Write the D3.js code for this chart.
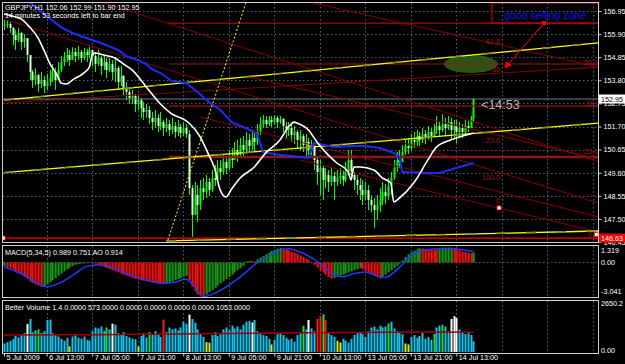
<!DOCTYPE html>
<html>
<head>
<meta charset="utf-8">
<script src="https://cdn.jsdelivr.net/npm/d3@7"></script>
<style>
body { margin: 0; background: #000; overflow: hidden; }
text { font-family: "Liberation Sans", Arial, sans-serif; }
</style>
</head>
<body>
<script>
// GBPJPY H1 chart data

var closes = [
  156.31,156.36,156.18,155.86,155.63,155.95,155.54,155.72,154.95,154.18,
  153.81,154.04,153.63,153.81,153.54,153.72,153.90,154.18,153.81,154.27,
  154.63,154.81,154.95,154.72,155.09,154.90,155.09,154.81,155.09,154.95,
  155.18,154.90,154.54,154.81,154.45,154.63,154.27,154.54,154.18,154.36,
  153.72,154.00,153.45,153.27,153.00,153.09,152.72,152.90,152.54,152.36,
  152.45,152.09,151.90,152.09,151.72,151.90,151.63,151.81,151.54,151.72,
  151.45,151.68,151.40,151.63,151.36,148.90,147.68,148.59,148.13,148.90,
  148.72,149.18,148.81,149.36,149.27,149.81,149.63,150.09,149.81,150.27,
  150.18,150.63,150.40,150.86,150.63,151.09,150.81,151.18,151.00,151.45,
  151.81,152.00,151.81,152.00,151.90,152.09,151.90,152.04,151.72,151.54,
  151.63,151.31,151.45,151.09,151.27,150.86,151.00,150.63,150.86,150.18,
  149.63,149.81,149.27,149.50,149.18,149.45,149.18,149.36,149.45,149.27,
  149.63,150.18,149.50,149.27,149.04,148.81,148.59,148.81,148.36,148.13,
  147.90,148.13,148.36,148.72,148.54,149.00,149.36,149.81,150.18,150.09,
  150.54,150.81,150.72,151.09,151.00,151.27,151.09,151.36,151.18,151.45,
  151.27,151.54,151.72,151.54,151.81,151.63,151.90,151.54,151.72,151.45,
  151.63,151.45,151.72,151.63,152.06,152.95];

var highs = [
  156.54,156.54,156.45,156.22,156.09,156.18,156.00,155.90,155.72,154.95,
  154.27,154.36,154.09,154.18,154.00,154.09,154.27,154.54,154.36,154.63,
  154.90,155.09,155.27,155.18,155.31,155.27,155.36,155.18,155.27,155.22,
  155.31,155.18,155.09,155.18,154.90,154.95,154.81,154.81,154.72,154.81,
  154.45,154.45,154.04,153.72,153.45,153.36,153.18,153.13,153.00,152.81,
  152.72,152.63,152.36,152.45,152.27,152.36,152.00,152.09,152.00,152.09,
  151.90,152.00,151.81,151.90,151.81,151.54,149.04,149.18,149.04,149.27,
  149.36,149.50,149.36,149.72,149.95,150.18,150.18,150.40,150.27,150.63,
  150.72,151.00,151.09,151.18,151.27,151.45,151.36,151.54,151.45,151.81,
  152.13,152.22,152.18,152.18,152.18,152.22,152.18,152.18,152.09,151.90,
  151.90,151.77,151.72,151.54,151.54,151.36,151.36,151.18,151.09,150.86,
  150.27,150.18,149.95,149.81,149.72,149.81,149.63,149.72,149.81,149.72,
  150.09,150.63,150.63,149.63,149.50,149.36,149.27,149.18,149.04,148.59,
  148.45,148.59,148.90,149.18,149.09,149.36,149.63,150.18,150.54,150.63,
  150.86,151.09,151.18,151.36,151.45,151.54,151.45,151.63,151.54,151.72,
  151.63,151.81,152.18,151.90,152.27,152.09,152.18,152.09,152.00,152.00,
  151.90,151.81,152.00,152.00,152.18,152.99];

var lows = [
  156.09,156.18,155.95,155.40,155.18,155.54,155.18,155.27,154.63,153.81,
  153.45,153.59,153.27,153.45,153.22,153.36,153.54,153.72,153.36,153.90,
  154.18,154.45,154.63,154.45,154.72,154.63,154.72,154.59,154.72,154.63,
  154.81,154.45,154.18,154.45,154.04,154.27,153.90,154.18,153.81,153.72,
  153.36,153.54,153.13,152.90,152.72,152.72,152.36,152.45,152.09,152.00,
  152.09,151.81,151.54,151.63,151.45,151.54,151.27,151.45,151.27,151.36,
  151.18,151.27,151.18,151.27,151.18,148.59,146.68,147.68,147.36,147.90,
  148.36,148.45,148.54,148.72,149.00,149.18,149.27,149.50,149.54,149.72,
  149.81,150.18,150.09,150.27,150.36,150.45,150.54,150.63,150.54,150.86,
  151.31,151.63,151.63,151.72,151.68,151.77,151.63,151.81,151.45,151.18,
  151.27,151.00,150.90,150.72,150.63,150.54,150.36,150.31,150.40,149.72,
  149.04,148.59,148.36,148.90,148.72,149.00,148.36,149.00,149.09,149.00,
  149.18,149.50,149.27,148.81,148.59,148.36,148.13,148.36,147.90,147.81,
  147.09,147.45,147.81,148.13,148.18,148.36,148.59,149.27,149.63,149.81,
  150.09,150.40,150.45,150.63,150.72,150.81,150.81,150.95,150.90,151.09,
  151.00,151.22,151.36,151.27,151.45,151.27,151.54,151.09,151.18,150.95,
  151.27,151.18,151.36,151.45,151.63,151.90];

// moving averages as [bar index, price]
var maWhite = [[0,156.81],[4,156.68],[6,156.59],[9,156.22],[12,155.72],[14,155.18],[16,154.59],
  [19,153.95],[20,153.68],[22,153.63],[24,153.81],[28,154.13],[30,154.40],[31,154.95],[32,155.04],
  [35,154.95],[39,154.81],[42,154.54],[45,154.27],[50,153.50],[55,152.72],[59,152.27],[63,152.04],
  [65,151.86],[69,151.22],[72,150.40],[74,149.81],[76,148.81],[78,148.50],[80,148.86],[83,149.36],
  [88,149.86],[92,150.50],[97,151.09],[100,151.68],[102,151.90],[103,151.86],[107,151.54],
  [110,151.00],[114,150.40],[117,150.04],[121,149.63],[122,149.27],[123,149.86],[125,149.86],
  [130,149.72],[133,149.36],[136,149.13],[137,148.27],[139,148.45],[144,149.13],[149,150.18],
  [152,150.77],[157,151.09],[160,151.22],[165,151.40]];

var maBlue = [[8,157.45],[15,156.72],[20,156.22],[24,155.95],[30,155.68],[35,155.45],[40,155.18],
  [43,154.90],[47,154.72],[50,154.54],[52,154.31],[55,154.13],[59,153.77],[64,153.68],[68,153.27],
  [72,152.81],[76,152.45],[80,151.90],[85,151.63],[89,151.36],[91,150.54],[97,150.40],[104,150.31],
  [107,150.27],[109,150.95],[116,150.77],[122,150.81],[127,150.81],[132,150.72],[137,150.50],
  [139,150.31],[140,149.63],[149,149.59],[153,149.59],[159,149.81],[165,150.04]];

var macdHist = [
  -0.30,-0.40,-0.50,
  -0.60,-0.80,-0.95,-1.10,-1.30,-1.50,-1.70,-1.85,-2.00,-2.10,-2.20,
  -2.15,-2.00,-1.80,-1.60,-1.40,-1.20,-1.00,-0.80,-0.60,-0.45,-0.30,-0.20,
  -0.15,-0.10,-0.08,-0.06,-0.05,-0.07,-0.10,
  -0.20,-0.30,-0.40,-0.50,-0.60,-0.70,-0.80,-0.90,-1.00,
  -1.10,-1.20,-1.30,-1.40,-1.50,-1.55,-1.60,-1.65,-1.70,-1.75,-1.80,-1.85,-1.90,-1.92,-1.95,
  -1.90,-1.80,-1.70,-1.60,-1.50,-1.40,-1.30,-1.20,
  -1.60,-2.20,-2.60,-2.90,-3.00,-3.04,
  -2.90,-2.70,-2.50,-2.30,-2.10,-1.90,-1.70,-1.50,-1.30,-1.10,-0.90,-0.70,-0.50,-0.30,
  0.10,0.15,0.12,0.10,
  0.30,0.45,0.60,0.75,0.90,1.05,1.15,1.25,1.32,
  1.28,1.20,1.10,1.00,0.90,0.80,0.65,0.50,0.35,0.20,0.05,
  -0.20,-0.45,-0.70,-0.90,-1.10,-1.30,-1.45,
  -1.40,-1.30,-1.20,-1.10,-1.00,-0.90,-0.80,-0.70,-0.60,-0.50,
  -0.60,-0.75,-0.90,-1.05,-1.20,-1.35,-1.45,
  -1.30,-1.10,-0.90,-0.70,-0.50,-0.30,-0.10,
  0.20,0.50,0.75,0.95,1.10,1.20,1.30,
  1.28,1.25,1.22,1.20,1.18,1.15,
  1.20,1.25,1.28,1.30,1.32,
  1.28,1.20,1.10,1.00,0.95,0.90,0.85,
  0.91];

var macdSignal = [[0,-0.40],[6,-1.00],[12,-1.90],[15,-2.20],[20,-1.80],[25,-1.00],[29,-0.35],
  [33,-0.20],[38,-0.45],[44,-1.10],[50,-1.60],[56,-1.90],[60,-1.80],[64,-1.50],[67,-2.20],
  [70,-3.10],[74,-2.80],[80,-1.90],[85,-0.90],[88,-0.20],[92,0.40],[97,1.10],[100,1.25],
  [104,0.95],[108,0.45],[112,-0.30],[116,-1.10],[119,-1.30],[123,-1.00],[127,-0.85],[131,-1.20],
  [134,-1.35],[137,-0.90],[140,-0.20],[143,0.60],[147,1.10],[152,1.25],[157,1.30],[161,1.15],
  [165,1.00]];

var volume = [
  450,520,600,680,850,780,920,1000,1480,1750,
  1050,1150,1200,1000,1100,1700,1720,1000,900,820,
  700,600,750,300,820,900,760,700,820,650,
  600,1100,1300,1250,1350,1100,1300,1200,1500,1450,
  1000,900,1050,850,780,700,680,300,850,1000,
  760,1050,900,1100,950,800,1720,1050,1300,1200,
  1250,1150,1300,1600,1500,1980,1750,1550,1200,950,
  800,520,500,900,1050,850,950,1200,1300,1150,
  1400,1250,1350,1200,1450,1600,1650,1560,1700,1100,
  1000,900,850,700,400,650,950,1000,900,750,
  650,700,550,900,1000,1380,1200,1700,1250,1100,
  1750,1900,2000,1700,1000,900,800,600,500,700,
  600,500,700,900,1000,1050,950,800,1100,1300,
  1350,1200,1400,1300,1350,1500,1600,1250,1100,1000,
  950,450,400,800,900,750,850,1000,700,800,
  650,950,1300,1400,1450,1350,1100,1750,1900,1800,
  1200,1050,950,1000,900,573];

// Better Volume bar class: c normal, w climax, r climax down, g churn, y low
var volClass = ("ccccccccwc" + "ccgccccccc" + "cccycccccc" + "ccccccgcwc" + "cccccccycc" +
  "cgccccrccc" + "cccccwcccc" + "cyyccccccc" + "cccccccwcc" + "ccccyccccc" +
  "cccccgcwcc" + "rrgrcccyyc" + "cccccccccc" + "cccccgcccc" + "cyyccccccc" +
  "cgccgccwww" + "cccccc").split("");

var volAvg = [[0,900],[30,920],[60,960],[90,1000],[120,1040],[150,1060],[165,1053]];

var priceTicks = [156.95,155.90,154.85,153.80,152.75,151.70,150.65,149.60,148.55,147.50,146.45];
var timeTickIdx = [0,15,31,47,63,79,95,111,127,143,159];
var timeLabels = ["5 Jul 2009","6 Jul 13:00","7 Jul 05:00","7 Jul 21:00","8 Jul 13:00","9 Jul 05:00",
  "9 Jul 21:00","10 Jul 13:00","13 Jul 05:00","13 Jul 21:00","14 Jul 13:00"];
var gridIdx = [15,31,47,63,79,95,111,127,143,159,175,191,207];

// drawn objects, [bar1, price1, bar2, price2]
var yellowLines = [[0,152.90,209,155.50],[0,149.60,209,151.86],[57,146.50,209,146.95]];
var yellowDotted = [57.6,146.54,85.1,157.36];
var redDiag = [[32,157.45,209,150.09],[0,156.58,209,148.22],[104,157.45,209,154.40],
  [69,152.13,209,147.59],[104,150.18,209,146.90],[86.5,153.95,209,150.22],[0,152.77,209,154.40]];
// horizontal levels [start bar, price]
var redFlat = [[58,156.40],[58,154.54],[58,152.63]];
var fibLabels = [["61.8",169.4,155.45],["50.0",203.9,154.50],["50",171.5,154.18],["38.2",204.6,152.63],
  ["23.6",169.4,150.95],["23.6",203.9,150.45],["100.0",168,149.27],["0",172.9,148.22],["0.0",205.3,146.66]];

var width = 625, height = 364;

var svg = d3.select("body").append("svg")
    .attr("width", width)
    .attr("height", height)
    .style("background", "#000");

var x = d3.scaleLinear().domain([0, 209]).range([4, 598.6]);
var yP = d3.scaleLinear().domain([146.5, 156.95]).range([240.9, 11]);
var yM = d3.scaleLinear().domain([-3.041, 1.319]).range([296, 248]);
var yV = d3.scaleLinear().domain([0, 2650.2]).range([352, 302]);

var grid = "#56606a";
var fontSize = 7.2;

// clip areas for panels
var defs = svg.append("defs");
defs.append("clipPath").attr("id", "cMain").append("rect").attr("x", 3).attr("y", 3).attr("width", 595).attr("height", 239);
defs.append("clipPath").attr("id", "cMacd").append("rect").attr("x", 3).attr("y", 246).attr("width", 595).attr("height", 51);
defs.append("clipPath").attr("id", "cVol").append("rect").attr("x", 3).attr("y", 301).attr("width", 595).attr("height", 52);
defs.append("marker").attr("id", "arr").attr("viewBox", "0 0 10 10").attr("refX", 9).attr("refY", 5)
  .attr("markerWidth", 7).attr("markerHeight", 7).attr("orient", "auto")
  .append("path").attr("d", "M0,0L10,5L0,10z").attr("fill", "#ff0000");

// ---- main panel
var main = svg.append("g").attr("clip-path", "url(#cMain)");

main.selectAll(".hg").data(priceTicks).enter().append("line")
  .attr("x1", 3).attr("x2", 598).attr("y1", function(d) { return Math.round(yP(d)) + 0.5; })
  .attr("y2", function(d) { return Math.round(yP(d)) + 0.5; })
  .attr("stroke", grid).attr("stroke-dasharray", "1.5,2.5");
main.selectAll(".vg").data(gridIdx).enter().append("line")
  .attr("y1", 3).attr("y2", 242).attr("x1", function(d) { return Math.round(x(d)) + 0.5; })
  .attr("x2", function(d) { return Math.round(x(d)) + 0.5; })
  .attr("stroke", grid).attr("stroke-dasharray", "1.5,2.5");

// green zone ellipse (background object)
main.append("ellipse").attr("cx", x(164.1)).attr("cy", yP(154.54))
  .attr("rx", x(9.5) - x(0)).attr("ry", yP(154.13) - yP(154.54))
  .attr("fill", "#2f5d18").attr("opacity", 0.9);

// candles
var bars = closes.map(function(c, i) {
  var o = i ? closes[i - 1] : c;
  return {i: i, o: o, c: c, h: Math.max(highs[i], o, c), l: Math.min(lows[i], o, c)};
});
main.selectAll(".wick").data(bars).enter().append("line")
  .attr("x1", function(d) { return Math.round(x(d.i)) + 0.5; })
  .attr("x2", function(d) { return Math.round(x(d.i)) + 0.5; })
  .attr("y1", function(d) { return yP(d.h); })
  .attr("y2", function(d) { return yP(d.l); })
  .attr("stroke", "#00ff00").attr("stroke-width", 1);
main.selectAll(".body").data(bars).enter().append("rect")
  .attr("x", function(d) { return Math.round(x(d.i)) - 0.5; })
  .attr("width", 2)
  .attr("y", function(d) { return yP(Math.max(d.o, d.c)); })
  .attr("height", function(d) { return Math.max(1, Math.abs(yP(d.o) - yP(d.c))); })
  .attr("fill", function(d) { return d.c >= d.o ? "#00ff00" : "#d8ffd8"; });

// horizontal levels and trend lines
main.selectAll(".flat").data(redFlat).enter().append("line")
  .attr("x1", function(d) { return x(d[0]); }).attr("x2", 598)
  .attr("y1", function(d) { return yP(d[1]); }).attr("y2", function(d) { return yP(d[1]); })
  .attr("stroke", "#a01010").attr("stroke-width", 1.2);
main.append("line").attr("x1", x(58)).attr("x2", 598).attr("y1", yP(150.31)).attr("y2", yP(150.31))
  .attr("stroke", "#8a1818").attr("stroke-width", 2.5);
main.append("line").attr("x1", 3).attr("x2", 598).attr("y1", yP(152.95)).attr("y2", yP(152.95))
  .attr("stroke", "#6f7f8c").attr("stroke-width", 1);
main.append("line").attr("x1", 3).attr("x2", 598).attr("y1", yP(146.63)).attr("y2", yP(146.63))
  .attr("stroke", "#ff0000").attr("stroke-width", 1.2);

main.selectAll(".diag").data(redDiag).enter().append("line")
  .attr("x1", function(d) { return x(d[0]); }).attr("y1", function(d) { return yP(d[1]); })
  .attr("x2", function(d) { return x(d[2]); }).attr("y2", function(d) { return yP(d[3]); })
  .attr("stroke", "#860000").attr("stroke-width", 1);

main.selectAll(".yl").data(yellowLines).enter().append("line")
  .attr("x1", function(d) { return x(d[0]); }).attr("y1", function(d) { return yP(d[1]); })
  .attr("x2", function(d) { return x(d[2]); }).attr("y2", function(d) { return yP(d[3]); })
  .attr("stroke", "#ffff00").attr("stroke-width", 1.3);
main.selectAll(".yo").data(yellowLines).enter().append("line")
  .attr("x1", function(d) { return x(d[0]); }).attr("y1", function(d) { return yP(d[1]); })
  .attr("x2", function(d) { return x(d[2]); }).attr("y2", function(d) { return yP(d[3]); })
  .attr("stroke", "#8c8c1e").attr("stroke-width", 1.6).attr("stroke-dasharray", "10,20");
main.append("line")
  .attr("x1", x(yellowDotted[0])).attr("y1", yP(yellowDotted[1]))
  .attr("x2", x(yellowDotted[2])).attr("y2", yP(yellowDotted[3]))
  .attr("stroke", "#ffff00").attr("stroke-width", 1).attr("stroke-dasharray", "2,2");

// moving averages
var lineP = d3.line().x(function(d) { return x(d[0]); }).y(function(d) { return yP(d[1]); })
  .curve(d3.curveMonotoneX);
main.append("path").datum(maBlue).attr("d", d3.line().x(function(d) { return x(d[0]); })
  .y(function(d) { return yP(d[1]); }))
  .attr("fill", "none").attr("stroke", "#1a2cff").attr("stroke-width", 2);
main.append("path").datum(maWhite).attr("d", lineP)
  .attr("fill", "none").attr("stroke", "#ffffff").attr("stroke-width", 1.6);

// fibo labels and anchors
main.selectAll(".fib").data(fibLabels).enter().append("text")
  .attr("x", function(d) { return x(d[1]); }).attr("y", function(d) { return yP(d[2]); })
  .attr("fill", "#a01818").attr("font-size", fontSize).text(function(d) { return d[0]; });
main.selectAll(".anch").data([[174, 148.0], [-0.3, 146.63], [208.2, 146.8]]).enter().append("rect")
  .attr("x", function(d) { return x(d[0]) - 2; }).attr("y", function(d) { return yP(d[1]) - 2; })
  .attr("width", 4).attr("height", 4).attr("fill", "#fff").attr("stroke", "#ff0000").attr("stroke-width", 0.8);

// selling zone note
main.append("rect").attr("x", x(171.5)).attr("y", yP(157.31))
  .attr("width", x(209) - x(171.5)).attr("height", yP(156.40) - yP(157.31))
  .attr("fill", "none").attr("stroke", "#c00000").attr("stroke-width", 1.2);
main.append("text").attr("x", x(190.2)).attr("y", yP(156.58)).attr("text-anchor", "middle")
  .attr("fill", "#1010ff").attr("font-size", 10.5).text("good selling zone");
main.append("line").attr("x1", x(189.8)).attr("y1", yP(156.40)).attr("x2", x(176.1)).attr("y2", yP(154.36))
  .attr("stroke", "#ff0000").attr("stroke-width", 1).attr("marker-end", "url(#arr)");
main.append("rect").attr("x", x(189.8) - 2).attr("y", yP(156.40) - 2).attr("width", 4).attr("height", 4)
  .attr("fill", "#ff0000");

main.append("text").attr("x", x(167.7)).attr("y", yP(152.50)).attr("fill", "#b8b8b8")
  .attr("font-size", 12.5).text("<14:53");

svg.append("text").attr("x", 5).attr("y", 10).attr("fill", "#fff").attr("font-size", fontSize)
  .text("GBPJPY,H1  152.06 152.99 151.90 152.95");
svg.append("text").attr("x", 5).attr("y", 18).attr("fill", "#fff").attr("font-size", fontSize)
  .text("14 minutes 53 seconds left to bar end");

// ---- MACD panel
var mac = svg.append("g").attr("clip-path", "url(#cMacd)");
mac.selectAll(".vg").data(gridIdx).enter().append("line")
  .attr("y1", 246).attr("y2", 297).attr("x1", function(d) { return Math.round(x(d)) + 0.5; })
  .attr("x2", function(d) { return Math.round(x(d)) + 0.5; })
  .attr("stroke", grid).attr("stroke-dasharray", "1.5,2.5");
mac.append("line").attr("x1", 3).attr("x2", 598).attr("y1", yM(0)).attr("y2", yM(0))
  .attr("stroke", grid).attr("stroke-dasharray", "1.5,2.5");
mac.selectAll(".mh").data(macdHist).enter().append("rect")
  .attr("x", function(d, i) { return Math.round(x(i)) - 0.5; })
  .attr("width", 2.2)
  .attr("y", function(d) { return yM(Math.max(0, d)); })
  .attr("height", function(d) { return Math.max(0.5, Math.abs(yM(d) - yM(0))); })
  .attr("fill", function(d, i) { return i && d < macdHist[i - 1] ? "#f01010" : "#199419"; });
mac.append("path").datum(macdSignal)
  .attr("d", d3.line().x(function(d) { return x(d[0]); }).y(function(d) { return yM(d[1]); }).curve(d3.curveMonotoneX))
  .attr("fill", "none").attr("stroke", "#1a3cff").attr("stroke-width", 1.5);
svg.append("text").attr("x", 5).attr("y", 255).attr("fill", "#fff").attr("font-size", fontSize)
  .text("MACD(5,34,5) 0.989 0.751  AO 0.914");

// ---- volume panel
var vol = svg.append("g").attr("clip-path", "url(#cVol)");
vol.selectAll(".vg").data(gridIdx).enter().append("line")
  .attr("y1", 301).attr("y2", 353).attr("x1", function(d) { return Math.round(x(d)) + 0.5; })
  .attr("x2", function(d) { return Math.round(x(d)) + 0.5; })
  .attr("stroke", grid).attr("stroke-dasharray", "1.5,2.5");
var volColor = {c: "#14c4ee", w: "#ffffff", r: "#ff1a1a", g: "#22dd22", y: "#e8e020"};
vol.selectAll(".vb").data(volume).enter().append("rect")
  .attr("x", function(d, i) { return Math.round(x(i)) - 0.5; })
  .attr("width", 2)
  .attr("y", function(d) { return yV(d); })
  .attr("height", function(d) { return yV(0) - yV(d); })
  .attr("fill", function(d, i) { return volColor[volClass[i]]; });
vol.append("path").datum(volAvg)
  .attr("d", d3.line().x(function(d) { return x(d[0]); }).y(function(d) { return yV(d[1]); }))
  .attr("fill", "none").attr("stroke", "#a00000").attr("stroke-width", 1.5);
svg.append("text").attr("x", 5).attr("y", 310).attr("fill", "#fff").attr("font-size", fontSize)
  .text("Better Volume 1.4 0.0000 573.0000 0.0000 0.0000 0.0000 0.0000 1053.0000");

// ---- frames
var frame = svg.append("g").attr("fill", "none").attr("stroke", "#d0d0d0").attr("stroke-width", 1);
frame.append("rect").attr("x", 2.5).attr("y", 2.5).attr("width", 596).attr("height", 240);
frame.append("rect").attr("x", 2.5).attr("y", 245.5).attr("width", 596).attr("height", 52);
frame.append("rect").attr("x", 2.5).attr("y", 300.5).attr("width", 596).attr("height", 53);

// ---- price axis
var axP = svg.append("g").attr("transform", "translate(598.5,0)")
  .call(d3.axisRight(yP).tickValues(priceTicks).tickFormat(d3.format(".2f")).tickSize(3).tickPadding(2));
axP.select(".domain").remove();
axP.selectAll("line").attr("stroke", "#d0d0d0");
axP.selectAll("text").attr("fill", "#fff").attr("font-size", fontSize).attr("font-family", "Liberation Sans, Arial");

var boxes = [[152.95, "#ffffff", "#000000"], [146.63, "#ff0000", "#ffffff"]];
boxes.forEach(function(b) {
  svg.append("rect").attr("x", 599).attr("y", yP(b[0]) - 4.5).attr("width", 26).attr("height", 9).attr("fill", b[1]);
  svg.append("text").attr("x", 601).attr("y", yP(b[0]) + 2.6).attr("fill", b[2])
    .attr("font-size", fontSize).text(d3.format(".2f")(b[0]));
});

var macdLabels = [[1.319, "1.319"], [0, "0.00"], [-3.041, "-3.041"]];
svg.selectAll(".ml").data(macdLabels).enter().append("text")
  .attr("x", 601).attr("y", function(d) { return Math.min(294, Math.max(253, yM(d[0]) + 2.5)); })
  .attr("fill", "#fff").attr("font-size", fontSize).text(function(d) { return d[1]; });
svg.selectAll(".vl").data([[2650.2, "2650.2"], [0, "0.00"]]).enter().append("text")
  .attr("x", 601).attr("y", function(d) { return Math.min(353, Math.max(306, yV(d[0]) + 2.5)); })
  .attr("fill", "#fff").attr("font-size", fontSize).text(function(d) { return d[1]; });

// ---- time axis
var axT = svg.append("g").attr("transform", "translate(0,353.5)")
  .call(d3.axisBottom(x).tickValues(timeTickIdx).tickFormat(function(d, k) { return timeLabels[k]; })
    .tickSize(3).tickPadding(1));
axT.select(".domain").remove();
axT.selectAll("line").attr("stroke", "#d0d0d0");
axT.selectAll("text").attr("fill", "#fff").attr("font-size", fontSize).attr("font-family", "Liberation Sans, Arial")
  .attr("text-anchor", "start").attr("dx", 2).attr("dy", "0.35em");
</script>
</body>
</html>
